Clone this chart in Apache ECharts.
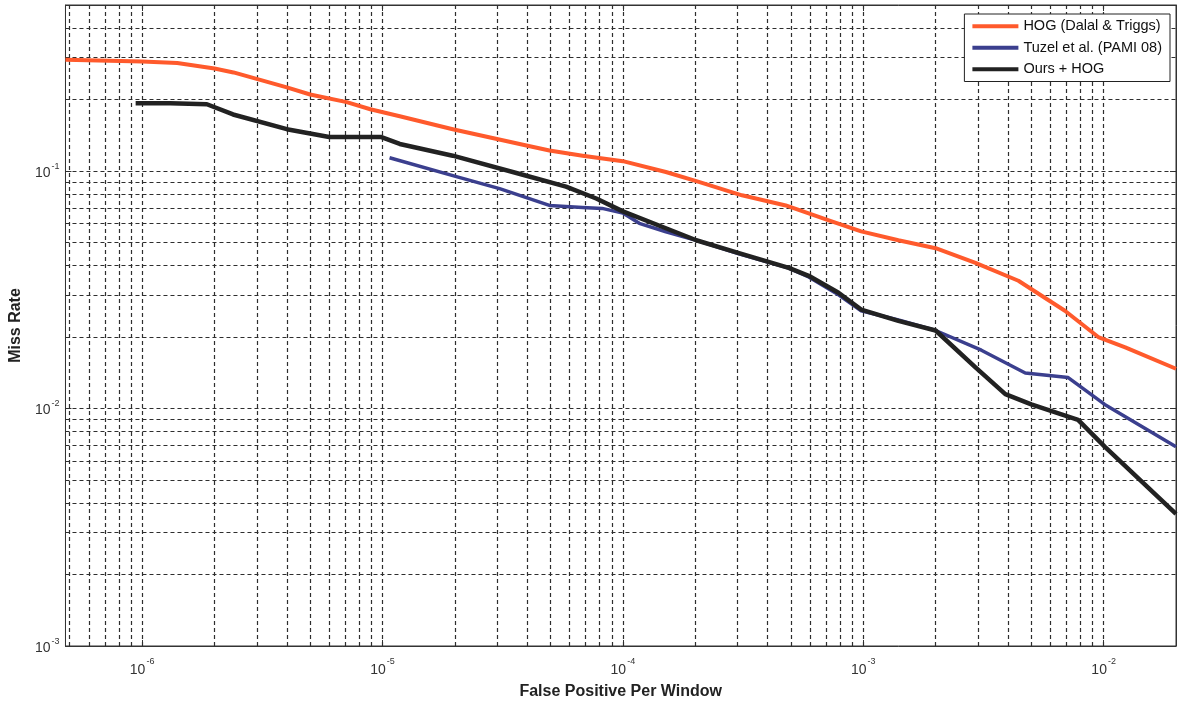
<!DOCTYPE html>
<html>
<head>
<meta charset="utf-8">
<script src="https://cdn.jsdelivr.net/npm/echarts@6/dist/echarts.min.js"></script>
<style>
  html, body { margin: 0; padding: 0; background: #fff; }
  #main { width: 1179px; height: 705px; }
</style>
</head>
<body>
<div id="main"></div>
<script>
// axis ranges and grid decades
const xRange = [4.8e-7, 2e-2];
const yRange = [1e-3, 0.5];
const xDecades = [-7, -6, -5, -4, -3, -2];
const yDecades = [-4, -3, -2, -1];
const steps = [1, 2, 3, 4, 5, 6, 7, 8, 9];

const seriesNames = ['HOG (Dalal & Triggs)', 'Tuzel et al. (PAMI 08)', 'Ours + HOG'];

// [false positive per window, miss rate]
const hogData = [
  [4.8e-7, 0.294], [1e-6, 0.289], [1.4e-6, 0.285], [2e-6, 0.27], [2.4e-6, 0.26],
  [4e-6, 0.225], [5e-6, 0.21], [7.1e-6, 0.195], [8.9e-6, 0.182], [1.18e-5, 0.17],
  [1.96e-5, 0.15], [3.97e-5, 0.128], [4.95e-5, 0.122], [6.8e-5, 0.116], [1e-4, 0.11],
  [1.51e-4, 0.099], [2.07e-4, 0.09], [3.13e-4, 0.079], [4.76e-4, 0.0716], [7.39e-4, 0.0614],
  [9.8e-4, 0.0557], [1.4e-3, 0.0511], [2e-3, 0.0473], [2.93e-3, 0.041], [4.42e-3, 0.0345],
  [6.9e-3, 0.0258], [9.5e-3, 0.02], [1.23e-2, 0.0181], [2e-2, 0.0147]
];
const tuzelData = [
  [1.07e-5, 0.1137], [2.03e-5, 0.0947], [3.07e-5, 0.0843], [4.95e-5, 0.0716], [6.8e-5, 0.0702],
  [8.2e-5, 0.0696], [1e-4, 0.0665], [1.17e-4, 0.0602], [1.51e-4, 0.0555], [2.07e-4, 0.0507],
  [3.04e-4, 0.0448], [4.9e-4, 0.039], [5.93e-4, 0.0358], [7.89e-4, 0.0301], [9.8e-4, 0.0258],
  [1.4e-3, 0.0236], [2e-3, 0.0213], [3.1e-3, 0.0176], [4.72e-3, 0.0141], [7.12e-3, 0.0135],
  [1.01e-2, 0.0104], [2e-2, 0.0069]
];
const oursData = [
  [9.4e-7, 0.193], [1.31e-6, 0.193], [1.86e-6, 0.191], [2.39e-6, 0.173], [4e-6, 0.15],
  [6e-6, 0.139], [9.9e-6, 0.139], [1.18e-5, 0.13], [1.96e-5, 0.116], [3.97e-5, 0.0955],
  [5.8e-5, 0.0859], [7.75e-5, 0.0766], [1e-4, 0.0676], [1.51e-4, 0.0574], [2.02e-4, 0.0511],
  [3.04e-4, 0.0451], [4.9e-4, 0.0391], [5.93e-4, 0.0362], [7.89e-4, 0.0307], [9.8e-4, 0.0261],
  [1.4e-3, 0.0234], [2e-3, 0.0213], [2.93e-3, 0.0149], [3.9e-3, 0.0115], [5e-3, 0.0104],
  [7.83e-3, 0.00896], [1.01e-2, 0.00691], [2e-2, 0.0036]
];

function gridValues(decades, range) {
  const out = [];
  decades.forEach(d => {
    steps.forEach(m => {
      const v = m * Math.pow(10, d);
      if (v >= range[0] * 1.0001 && v <= range[1] * 0.9999) out.push(v);
    });
  });
  return out;
}

function powLabel(v) {
  const e = Math.log10(v);
  if (Math.abs(e - Math.round(e)) > 1e-6) return '';
  return '{b|10}{s|' + Math.round(e) + '}';
}

const font = 'Liberation Sans, Arial, sans-serif';
const gridStyle = { color: '#2e2e2e', width: 1.2, type: [4, 3] };

// dashed grid, one segment per minor/major decade step
const gridLines = [];
gridValues(xDecades, xRange).forEach(v => gridLines.push([{ coord: [v, yRange[0]] }, { coord: [v, yRange[1]] }]));
gridValues(yDecades, yRange).forEach(v => gridLines.push([{ coord: [xRange[0], v] }, { coord: [xRange[1], v] }]));

var myChart = echarts.init(document.getElementById('main'));
var option = {
  backgroundColor: '#fff',
  animation: false,
  grid: {
    left: 63, right: 3, top: 5, bottom: 54,
    show: true, borderColor: '#333', borderWidth: 1
  },
  legend: {
    data: seriesNames,
    orient: 'vertical',
    right: 9,
    top: 14,
    padding: [4, 8, 4, 8],
    itemGap: 5,
    itemWidth: 46,
    itemHeight: 4,
    icon: 'rect',
    backgroundColor: '#fff',
    borderColor: '#222',
    borderWidth: 1,
    borderRadius: 0,
    textStyle: { fontFamily: font, fontSize: 14.5, color: '#111', lineHeight: 16.5 }
  },
  xAxis: [{
    type: 'log',
    logBase: 10,
    min: xRange[0],
    max: xRange[1],
    splitNumber: 5,
    name: 'False Positive Per Window',
    nameLocation: 'middle',
    nameGap: 38,
    nameTextStyle: { fontFamily: font, fontSize: 16, fontWeight: 'bold', color: '#222' },
    axisLine: { show: true, lineStyle: { color: '#333' } },
    axisTick: { show: true, inside: true, length: 6, lineStyle: { color: '#333' } },
    splitLine: { show: false },
    axisLabel: {
      margin: 11,
      showMinLabel: false,
      showMaxLabel: false,
      formatter: powLabel,
      rich: {
        b: { fontFamily: font, fontSize: 14, color: '#333', lineHeight: 26 },
        s: { fontFamily: font, fontSize: 9, color: '#333', verticalAlign: 'top', padding: [0, 0, 0, 1] }
      }
    }
  }, {
    type: 'log',
    logBase: 10,
    min: xRange[0],
    max: xRange[1],
    splitNumber: 5,
    position: 'top',
    axisLine: { show: true, lineStyle: { color: '#333' } },
    axisTick: { show: true, inside: true, length: 6, lineStyle: { color: '#333' } },
    axisLabel: { show: false },
    splitLine: { show: false }
  }],
  yAxis: [{
    type: 'log',
    logBase: 10,
    min: yRange[0],
    max: yRange[1],
    splitNumber: 3,
    name: 'Miss Rate',
    nameLocation: 'middle',
    nameGap: 37,
    nameTextStyle: { fontFamily: font, fontSize: 16, fontWeight: 'bold', color: '#222' },
    axisLine: { show: true, lineStyle: { color: '#333' } },
    axisTick: { show: true, inside: true, length: 6, lineStyle: { color: '#333' } },
    splitLine: { show: false },
    axisLabel: {
      margin: 6,
      showMaxLabel: false,
      formatter: powLabel,
      rich: {
        b: { fontFamily: font, fontSize: 14, color: '#333', lineHeight: 18, padding: [4, 0, 0, 0] },
        s: { fontFamily: font, fontSize: 9, color: '#333', verticalAlign: 'top', padding: [0, 0, 0, 1] }
      }
    }
  }, {
    type: 'log',
    logBase: 10,
    min: yRange[0],
    max: yRange[1],
    splitNumber: 3,
    position: 'right',
    axisLine: { show: true, lineStyle: { color: '#333' } },
    axisTick: { show: true, inside: true, length: 6, lineStyle: { color: '#333' } },
    axisLabel: { show: false },
    splitLine: { show: false }
  }],
  series: [
    {
      name: 'grid',
      type: 'line',
      data: [],
      silent: true,
      markLine: {
        silent: true,
        z: 1,
        precision: 12,
        symbol: ['none', 'none'],
        label: { show: false },
        lineStyle: gridStyle,
        emphasis: { disabled: true },
        data: gridLines
      }
    },
    {
      name: seriesNames[0],
      type: 'line',
      data: hogData,
      symbol: 'none',
      z: 3,
      color: '#ff5a2c',
      lineStyle: { width: 4, color: '#ff5a2c', join: 'round' }
    },
    {
      name: seriesNames[1],
      type: 'line',
      data: tuzelData,
      symbol: 'none',
      z: 3,
      color: '#3b3f8e',
      lineStyle: { width: 3.5, color: '#3b3f8e', join: 'round' }
    },
    {
      name: seriesNames[2],
      type: 'line',
      data: oursData,
      symbol: 'none',
      z: 3,
      color: '#222222',
      lineStyle: { width: 4.5, color: '#222222', join: 'round' }
    }
  ]
};
myChart.setOption(option);
</script>
</body>
</html>
